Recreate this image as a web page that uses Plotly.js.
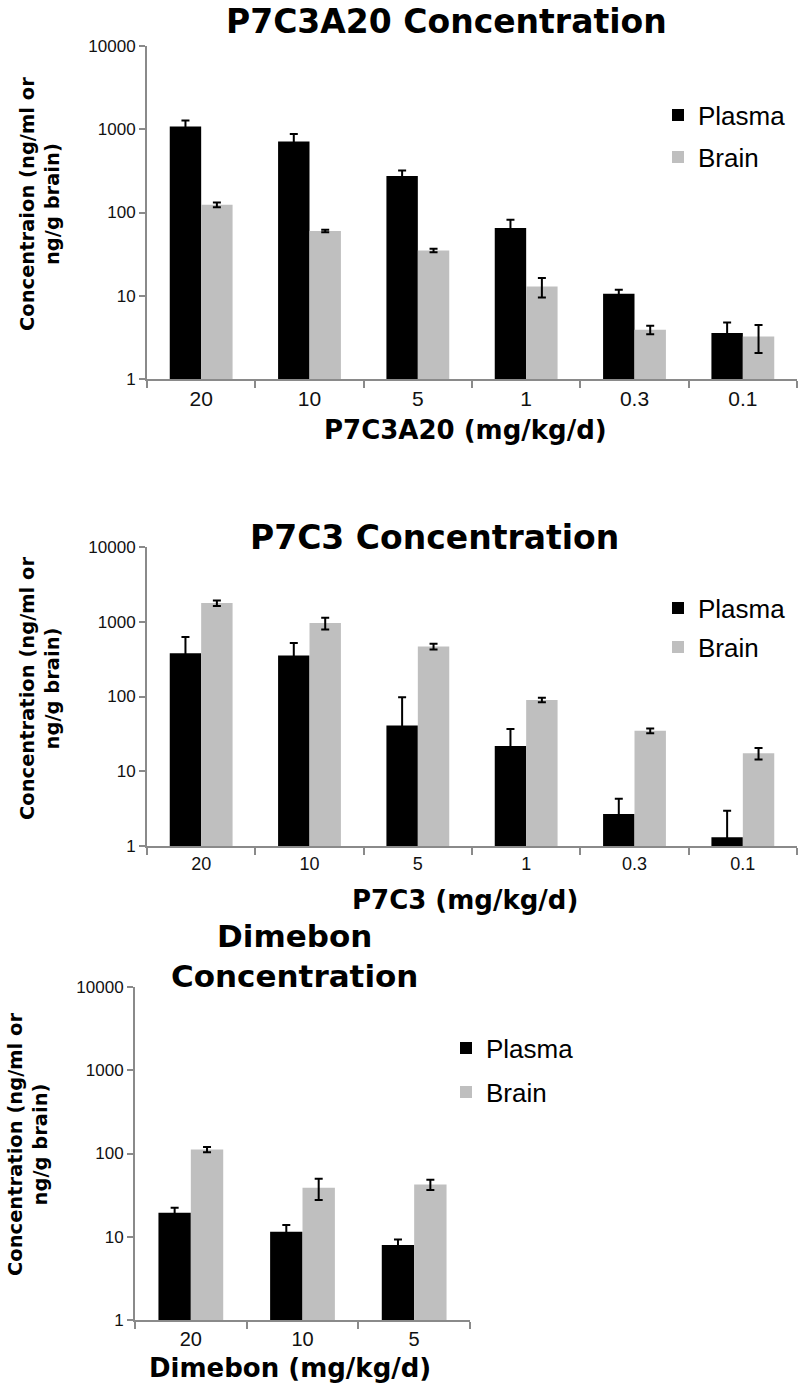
<!DOCTYPE html>
<html>
<head>
<meta charset="utf-8">
<script src="https://cdn.plot.ly/plotly-3.0.1.min.js"></script>
<style>
  body { margin: 0; background: #fff; }
  #chart { width: 799px; height: 1384px; }
</style>
</head>
<body>
<div id="chart"></div>
<script>
// doses (mg/kg/d)
const doses = ['20', '10', '5', '1', '0.3', '0.1'];
const dimebonDoses = ['20', '10', '5'];

// P7C3A20, ng/ml (plasma) or ng/g (brain)
const a20Plasma = [1076, 711, 275, 65, 10.6, 3.56];
const a20PlasmaErr = [195, 168, 44, 17, 1.2, 1.2];
const a20Brain = [124, 60, 35, 12.9, 3.9, 3.25];
const a20BrainErr = [8, 2, 1.8, 3.4, 0.45, 1.2];

// P7C3
const p7Plasma = [380, 354, 41, 21.8, 2.68, 1.31];
const p7PlasmaErr = [243, 164, 57, 15, 1.6, 1.66];
const p7Brain = [1778, 960, 467, 90, 34.7, 17.4];
const p7BrainErr = [150, 175, 40, 6, 2.5, 3];

// Dimebon
const dimPlasma = [19.4, 11.5, 7.94];
const dimPlasmaErr = [2.9, 2.3, 1.35];
const dimBrain = [111.7, 38.7, 42.5];
const dimBrainErr = [8, 11, 6];

const logTicks = [1, 10, 100, 1000, 10000];
const logTickText = ['1', '10', '100', '1000', '10000'];

const W = 799, H = 1384;
const px = v => v / W;
const py = v => 1 - v / H;

const font = 'Liberation Sans, Arial, sans-serif';
const boldFont = 'DejaVu Sans, Liberation Sans, sans-serif';
const black = '#000000';
const grey = '#bfbfbf';
const axisGrey = '#8a8a8a';

function pair(x, plasma, plasmaErr, brain, brainErr, n, legA, legB) {
  const ax = n === 1 ? '' : String(n);
  return [
    {
      type: 'bar', name: 'Plasma', x: x, y: plasma,
      xaxis: 'x' + ax, yaxis: 'y' + ax, legend: legA, showlegend: true,
      marker: {color: black},
      error_y: {type: 'data', array: plasmaErr, visible: true, color: black, thickness: 2, width: 4}
    },
    {
      type: 'bar', name: 'Brain', x: x, y: brain,
      xaxis: 'x' + ax, yaxis: 'y' + ax, legend: legB, showlegend: true,
      marker: {color: grey},
      error_y: {type: 'data', array: brainErr, visible: true, color: black, thickness: 2, width: 4}
    }
  ];
}

const data = [].concat(
  pair(doses, a20Plasma, a20PlasmaErr, a20Brain, a20BrainErr, 1, 'legend', 'legend2'),
  pair(doses, p7Plasma, p7PlasmaErr, p7Brain, p7BrainErr, 2, 'legend3', 'legend4'),
  pair(dimebonDoses, dimPlasma, dimPlasmaErr, dimBrain, dimBrainErr, 3, 'legend5', 'legend6')
);

function yAxis(top, bottom, xAnchor) {
  return {
    type: 'log', range: [0, 4], domain: [py(bottom), py(top)],
    anchor: xAnchor,
    tickvals: logTicks, ticktext: logTickText,
    ticks: 'outside', ticklen: 6, tickwidth: 2, tickcolor: axisGrey,
    showline: true, linecolor: axisGrey, linewidth: 2,
    showgrid: false, zeroline: false,
    tickfont: {family: font, size: 17, color: '#111'}
  };
}

function xAxis(left, right, yAnchor, size) {
  return {
    type: 'category', domain: [px(left), px(right)],
    anchor: yAnchor,
    ticks: 'outside', tickson: 'boundaries', ticklen: 7, tickwidth: 2, tickcolor: axisGrey,
    showline: true, linecolor: axisGrey, linewidth: 2,
    showgrid: false, zeroline: false,
    tickfont: {family: font, size: size, color: '#111'}
  };
}

function legendAt(x, y) {
  return {
    x: px(x), y: py(y), xanchor: 'left', yanchor: 'middle',
    font: {family: font, size: 26, color: '#000'},
    bgcolor: 'rgba(0,0,0,0)', itemwidth: 30
  };
}

function label(text, x, y, size, angle, anchor) {
  return {
    text: text, xref: 'paper', yref: 'paper', x: px(x), y: py(y),
    xanchor: 'center', yanchor: anchor || 'middle', showarrow: false,
    textangle: angle || 0,
    font: {family: boldFont, size: size, color: '#000', weight: 'bold'}
  };
}

const layout = {
  width: W, height: H,
  margin: {l: 0, r: 0, t: 0, b: 0},
  paper_bgcolor: '#fff', plot_bgcolor: '#fff',
  showlegend: true,
  barmode: 'group', bargap: 0.42, bargroupgap: 0,
  xaxis: xAxis(147, 797, 'y', 21),
  yaxis: yAxis(46, 379, 'x'),
  xaxis2: xAxis(147, 797, 'y2', 18),
  yaxis2: yAxis(547, 846, 'x2'),
  xaxis3: xAxis(135, 470, 'y3', 20),
  yaxis3: yAxis(987, 1320, 'x3'),
  legend: legendAt(658, 115),
  legend2: legendAt(658, 157),
  legend3: legendAt(658, 608),
  legend4: legendAt(658, 647),
  legend5: legendAt(446, 1048),
  legend6: legendAt(446, 1092),
  annotations: [
    label('P7C3A20 Concentration', 446, 0, 33, 0, 'top'),
    label('P7C3A20 (mg/kg/d)', 465, 430, 26),
    label('Concentraion (ng/ml or<br>ng/g brain)', 40, 204, 19.5, -90),
    label('P7C3 Concentration', 434, 537, 33),
    label('P7C3 (mg/kg/d)', 465, 900, 26),
    label('Concentration (ng/ml or<br>ng/g brain)', 40, 689, 19.5, -90),
    label('Dimebon<br>Concentration', 294, 956, 31),
    label('Dimebon (mg/kg/d)', 290, 1368, 26),
    label('Concentration (ng/ml or<br>ng/g brain)', 28, 1145, 19.5, -90)
  ]
};

Plotly.newPlot('chart', data, layout, {displayModeBar: false, staticPlot: true});
</script>
</body>
</html>
